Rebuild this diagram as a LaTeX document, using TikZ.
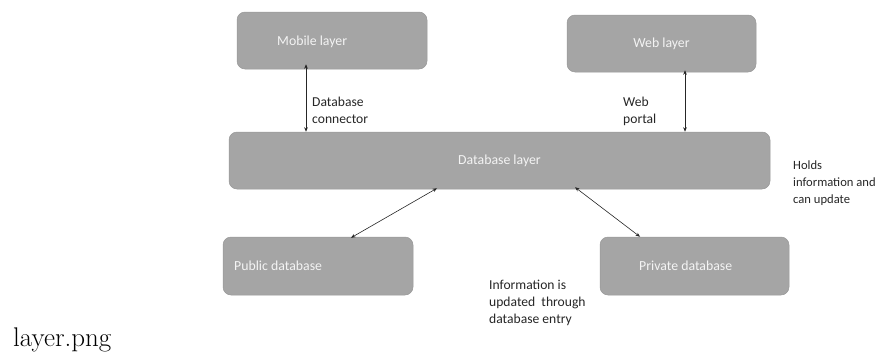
\documentclass[tikz,border=0pt]{standalone}
\usepackage{fontspec}
\newfontfamily\labelfont{Carlito}
\usetikzlibrary{arrows.meta}
\definecolor{boxgrey}{HTML}{A5A5A5}
\definecolor{boxedge}{HTML}{979797}
\definecolor{boxtext}{HTML}{F4F4F4}
\definecolor{inktext}{HTML}{262626}
\begin{document}
\begin{tikzpicture}[x=1pt,y=-1pt,
  layerbox/.style={rectangle, rounded corners=8pt, fill=boxgrey, draw=boxedge,
    line width=0.5pt, inner sep=0pt, text=boxtext,
    font=\labelfont\fontsize{13.8}{17}\selectfont},
  intext/.style={inner sep=0pt, text=boxtext, anchor=west,
    font=\labelfont\fontsize{13.8}{17}\selectfont},
  note/.style={inner sep=0pt, text=inktext, anchor=north west, align=left,
    font=\labelfont\fontsize{13.6}{17}\selectfont},
  link/.style={draw=black!85, line width=0.6pt,
    {Stealth[length=4.5pt,width=3.6pt]}-{Stealth[length=4.5pt,width=3.6pt]}}]
  \useasboundingbox (0,0) rectangle (877,356);

  % the five layers
  \node[layerbox, minimum width=190pt, minimum height=57pt] (mobile) at (332,40.5) {};
  \node[layerbox, minimum width=189pt, minimum height=57pt] (web) at (661.5,43.5) {Web layer};
  \node[layerbox, minimum width=541pt, minimum height=57pt] (db) at (499.5,160.5) {Database layer};
  \node[layerbox, minimum width=190pt, minimum height=58pt] (public) at (318,266) {};
  \node[layerbox, minimum width=189pt, minimum height=58pt] (private) at (694.5,266) {};

  % box captions set off-centre
  \node[intext] (mobiletext) at (277,42) {Mobile layer};
  \node[intext] (publictext) at (234,266) {Public database};
  \node[intext] (privatetext) at (639,266) {Private database};

  % connectors between the layers
  \draw[link] ([xshift=-26pt,yshift=5pt]mobile.south) -- ([xshift=-26pt]mobile.south |- db.north);
  \draw[link] ([xshift=23.5pt,yshift=2pt]web.south) -- ([xshift=23.5pt]web.south |- db.north);
  \draw[link] ([xshift=-62.5pt,yshift=1pt]db.south) -- ([xshift=33pt,yshift=-1pt]public.north);
  \draw[link] ([xshift=75.5pt,yshift=2pt]db.south) -- ([xshift=-54.5pt]private.north);

  % side notes
  \node[note] (dbconn) at (312,97) {Database\\connector};
  \node[note] (portal) at (623,97) {Web\\portal};
  \node[note, font=\labelfont\fontsize{12.6}{17}\selectfont] (holds) at (793,161) {Holds\\information and\\can update};
  \node[note] (entry) at (489,280) {Information is\\updated\ \ through\\database entry};

  % file name caption
  \node[inner sep=0pt, anchor=base west, font=\fontsize{27}{30}\selectfont] (caption) at (13,346) {layer.png};
\end{tikzpicture}
\end{document}
